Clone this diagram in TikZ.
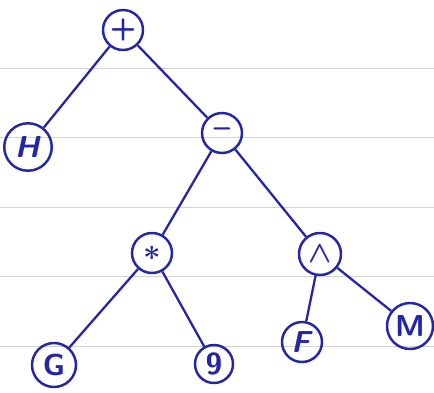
\documentclass[tikz,border=0pt]{standalone}
\usepackage{amsmath,amssymb}
\usepackage{tikz}
\definecolor{ink}{RGB}{36,38,168}
\definecolor{rule}{RGB}{212,212,212}
\tikzset{vtx/.style={circle,draw=ink,line width=1.4pt,text=ink,minimum size=0.8cm,inner sep=0pt,font=\sffamily\LARGE\bfseries},
  br/.style={draw=ink,line width=1.3pt}}
\begin{document}
\begin{tikzpicture}[x=0.02cm,y=-0.02cm]
\useasboundingbox (0,0) rectangle (434,393);
\foreach \y in {68,137,207,276,346} \draw[rule,line width=0.5pt] (0,\y) -- (434,\y);
\node[vtx] (plus) at (123,30) {+};
\node[vtx,minimum size=0.95cm] (h) at (28,147) {\textit{H}};
\node[vtx] (minus) at (222,133) {--};
\node[vtx] (times) at (152,253) {$\boldsymbol{\ast}$};
\node[vtx,minimum size=0.84cm] (wedge) at (320,254) {$\boldsymbol{\wedge}$};
\node[vtx,minimum size=0.88cm] (g) at (54,365) {G};
\node[vtx,minimum size=0.76cm] (nine) at (214,364) {9};
\node[vtx] (f) at (302,342) {\textit{F}};
\node[vtx,minimum size=0.92cm] (m) at (410,326) {M};
\draw[br] (plus) -- (h) (plus) -- (minus)
      (minus) -- (times) (minus) -- (wedge)
      (times) -- (g) (times) -- (nine)
      (wedge) -- (f) (wedge) -- (m);
\end{tikzpicture}
\end{document}
